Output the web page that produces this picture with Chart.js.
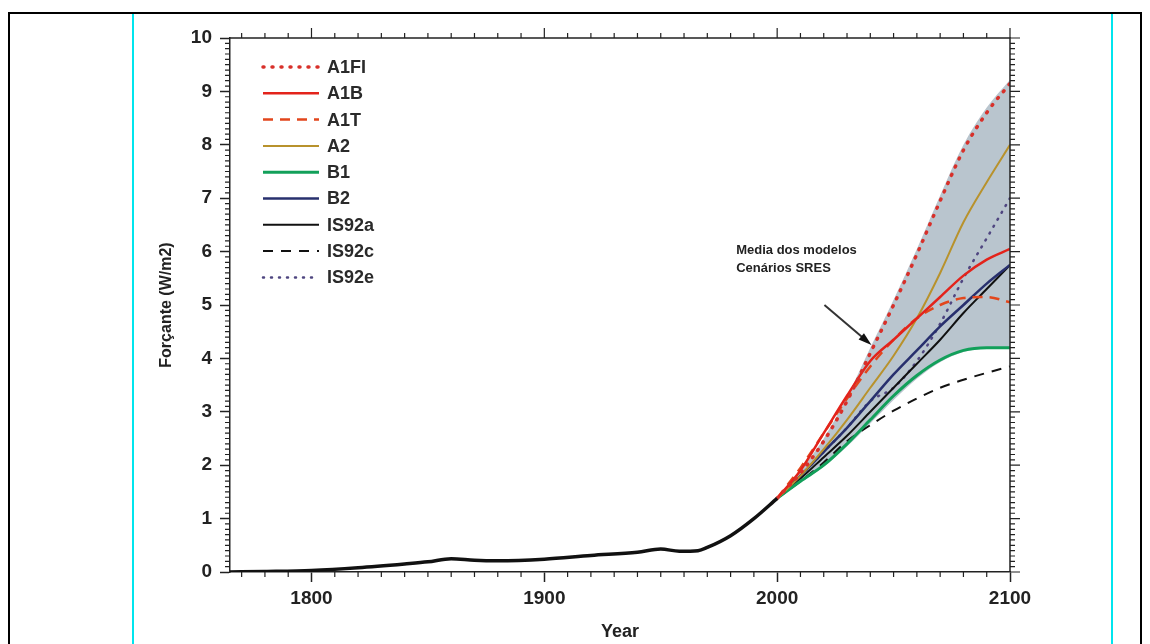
<!DOCTYPE html>
<html>
<head>
<meta charset="utf-8">
<script src="https://cdn.jsdelivr.net/npm/chart.js@4.4.0/dist/chart.umd.min.js"></script>
<style>
    body { margin: 0; background: #fff; }
    #frame { position: absolute; left: 8px; top: 12px; width: 1130px; height: 640px; border: 2px solid #000; border-bottom: none; }
    .cyan { position: absolute; top: 14px; width: 2px; height: 630px; background: #00e5ee; }
    #chart { position: absolute; left: 0; top: 0; }
</style>
</head>
<body>
<div id="frame"></div>
<div class="cyan" style="left:132px"></div>
<div class="cyan" style="left:1111px"></div>
<canvas id="chart" width="1150" height="644"></canvas>
<script>
// historical forcing
const histYears = [1765, 1780, 1800, 1820, 1840, 1850, 1860, 1870, 1880, 1900, 1920, 1940, 1950, 1958, 1966, 1970, 1980, 1990, 2000];
const histForcing = [0.0, 0.01, 0.03, 0.08, 0.15, 0.19, 0.25, 0.22, 0.21, 0.24, 0.31, 0.37, 0.43, 0.39, 0.40, 0.46, 0.68, 1.0, 1.38];

// scenario projections 2000-2100
const scenYears = [2000, 2010, 2020, 2030, 2040, 2050, 2060, 2070, 2080, 2090, 2100];
const a1fi  = [1.38, 1.85, 2.45, 3.2, 4.1, 5.0, 5.95, 6.95, 7.9, 8.6, 9.15];
const a1b   = [1.38, 1.9, 2.6, 3.3, 3.95, 4.35, 4.75, 5.15, 5.55, 5.85, 6.05];
const a1t   = [1.38, 1.95, 2.6, 3.25, 3.85, 4.35, 4.75, 5.0, 5.13, 5.15, 5.05];
const a2    = [1.38, 1.8, 2.3, 2.85, 3.45, 4.05, 4.75, 5.6, 6.55, 7.3, 8.0];
const b1    = [1.38, 1.7, 2.0, 2.4, 2.85, 3.3, 3.68, 3.97, 4.15, 4.2, 4.2];
const b2    = [1.38, 1.8, 2.25, 2.7, 3.2, 3.7, 4.15, 4.6, 5.0, 5.4, 5.75];
const is92a = [1.38, 1.75, 2.15, 2.55, 3.0, 3.45, 3.9, 4.35, 4.85, 5.3, 5.75];
const is92c = [1.38, 1.7, 2.05, 2.45, 2.75, 3.02, 3.25, 3.45, 3.6, 3.73, 3.85];
const is92e = [1.38, 1.8, 2.25, 2.7, 3.2, 3.45, 3.95, 4.65, 5.5, 6.25, 7.0];

// shaded model range
const bandLow  = [1.38, 1.67, 1.97, 2.35, 2.78, 3.22, 3.62, 3.93, 4.12, 4.18, 4.18];
const bandHigh = [1.38, 1.9, 2.5, 3.28, 4.2, 5.1, 6.05, 7.05, 8.0, 8.7, 9.22];

const xTickYears = [1800, 1900, 2000, 2100];
const yTickValues = [0, 1, 2, 3, 4, 5, 6, 7, 8, 9, 10];

const noteLines = ['Media dos modelos', 'Cenários SRES'];
const notePos = [1982.4, 6.03];
const arrowFrom = [2020.3, 5.0];
const arrowTo = [2040.5, 4.25];

const FONT = '"Liberation Sans", Arial, sans-serif';

function pts(xs, ys) {
    return xs.map((x, i) => ({ x: x, y: ys[i] }));
}

function scen(label, values, color, width, dash) {
    return {
        label: label,
        data: pts(scenYears, values),
        borderColor: color,
        borderWidth: width,
        borderDash: dash || [],
        borderCapStyle: dash && dash[0] <= 1 ? 'round' : 'butt',
        inLegend: true,
        fill: false
    };
}

// minor ticks, right/top axes
const frameTicks = {
    id: 'frameTicks',
    afterDraw(chart) {
        const { ctx, chartArea: { left, right, top, bottom }, scales: { x, y } } = chart;
        ctx.save();
        ctx.strokeStyle = '#222';
        ctx.lineWidth = 1.5;
        ctx.beginPath();
        ctx.moveTo(left, top);
        ctx.lineTo(right, top);
        ctx.lineTo(right, bottom);
        ctx.stroke();

        ctx.lineWidth = 1.2;
        ctx.beginPath();
        for (let yr = 1770; yr <= 2100; yr += 10) {
            const px = x.getPixelForValue(yr);
            const major = xTickYears.includes(yr);
            ctx.moveTo(px, top);
            ctx.lineTo(px, top - (major ? 10 : 5));
            if (!major) {
                ctx.moveTo(px, bottom);
                ctx.lineTo(px, bottom + 5);
            }
        }
        for (let k = 0; k <= 100; k++) {
            const v = k / 10;
            const py = y.getPixelForValue(v);
            const major = k % 10 === 0;
            ctx.moveTo(right, py);
            ctx.lineTo(right + (major ? 10 : 5), py);
            if (!major) {
                ctx.moveTo(left, py);
                ctx.lineTo(left - 5, py);
            }
        }
        ctx.stroke();
        ctx.restore();
    }
};

// legend inside the plot, upper left
const insideLegend = {
    id: 'insideLegend',
    afterDatasetsDraw(chart) {
        const { ctx, chartArea } = chart;
        const x0 = chartArea.left + 33;
        ctx.save();
        ctx.font = 'bold 18px ' + FONT;
        ctx.textBaseline = 'middle';
        ctx.fillStyle = '#2a2a2a';
        let row = 0;
        chart.data.datasets.forEach(ds => {
            if (!ds.inLegend) return;
            const yy = chartArea.top + 29 + row * 26.3;
            ctx.beginPath();
            ctx.strokeStyle = ds.borderColor;
            ctx.lineWidth = ds.borderWidth;
            ctx.setLineDash(ds.borderDash);
            ctx.lineCap = ds.borderCapStyle;
            ctx.moveTo(x0, yy);
            ctx.lineTo(x0 + 56, yy);
            ctx.stroke();
            ctx.setLineDash([]);
            ctx.fillText(ds.label, x0 + 64, yy + 1);
            row++;
        });
        ctx.restore();
    }
};

// text note and arrow
const modelNote = {
    id: 'modelNote',
    afterDatasetsDraw(chart) {
        const { ctx, scales: { x, y } } = chart;
        ctx.save();
        ctx.font = 'bold 13px ' + FONT;
        ctx.fillStyle = '#222';
        ctx.textBaseline = 'middle';
        const tx = x.getPixelForValue(notePos[0]);
        const ty = y.getPixelForValue(notePos[1]);
        noteLines.forEach((t, i) => ctx.fillText(t, tx, ty + i * 18));

        const x1 = x.getPixelForValue(arrowFrom[0]), y1 = y.getPixelForValue(arrowFrom[1]);
        const x2 = x.getPixelForValue(arrowTo[0]), y2 = y.getPixelForValue(arrowTo[1]);
        const ang = Math.atan2(y2 - y1, x2 - x1);
        ctx.strokeStyle = '#333';
        ctx.lineWidth = 2;
        ctx.beginPath();
        ctx.moveTo(x1, y1);
        ctx.lineTo(x2 - 10 * Math.cos(ang), y2 - 10 * Math.sin(ang));
        ctx.stroke();
        ctx.fillStyle = '#111';
        ctx.beginPath();
        ctx.moveTo(x2, y2);
        ctx.lineTo(x2 - 14 * Math.cos(ang - 0.3), y2 - 14 * Math.sin(ang - 0.3));
        ctx.lineTo(x2 - 14 * Math.cos(ang + 0.3), y2 - 14 * Math.sin(ang + 0.3));
        ctx.closePath();
        ctx.fill();
        ctx.restore();
    }
};

Chart.defaults.font.family = FONT;
Chart.defaults.color = '#222';

new Chart(document.getElementById('chart'), {
    type: 'line',
    data: {
        datasets: [
            {
                label: 'hist',
                data: pts(histYears, histForcing),
                borderColor: '#111',
                borderWidth: 3.5,
                fill: false
            },
            scen('A1FI', a1fi, '#d8302a', 3.5, [1, 8]),
            scen('A1B', a1b, '#e3231b', 2.5),
            scen('A1T', a1t, '#e2461c', 2.5, [10, 7]),
            scen('A2', a2, '#b8922c', 2),
            scen('B1', b1, '#12a05a', 3),
            scen('B2', b2, '#28306e', 2.5),
            scen('IS92a', is92a, '#111', 2),
            scen('IS92c', is92c, '#111', 2, [10, 8]),
            scen('IS92e', is92e, '#4f4680', 2.5, [1, 7]),
            {
                label: 'low',
                data: pts(scenYears, bandLow),
                borderWidth: 0,
                borderColor: 'rgba(0,0,0,0)',
                fill: false
            },
            {
                label: 'high',
                data: pts(scenYears, bandHigh),
                borderWidth: 0,
                borderColor: 'rgba(0,0,0,0)',
                backgroundColor: '#b9c5ce',
                fill: '-1'
            }
        ]
    },
    options: {
        responsive: false,
        animation: false,
        devicePixelRatio: 1,
        layout: { padding: { left: 150, right: 140, top: 38, bottom: 0 } },
        elements: {
            point: { radius: 0 },
            line: { cubicInterpolationMode: 'monotone' }
        },
        plugins: {
            legend: { display: false },
            tooltip: { enabled: false }
        },
        scales: {
            x: {
                type: 'linear',
                min: 1765,
                max: 2100,
                afterBuildTicks: s => { s.ticks = xTickYears.map(v => ({ value: v })); },
                afterFit: s => { s.height = 72; },
                ticks: {
                    font: { size: 19, weight: 'bold' },
                    padding: 5,
                    maxRotation: 0,
                    callback: v => String(v)
                },
                grid: { drawOnChartArea: false, tickLength: 10, tickWidth: 1.5, tickColor: '#222' },
                border: { color: '#222', width: 1.5 },
                title: {
                    display: true,
                    text: 'Year',
                    font: { size: 18, weight: 'bold' },
                    padding: { top: 0, bottom: 1 }
                }
            },
            y: {
                min: 0,
                max: 10,
                afterBuildTicks: s => { s.ticks = yTickValues.map(v => ({ value: v })); },
                afterFit: s => { s.width = 80; },
                ticks: {
                    font: { size: 19, weight: 'bold' },
                    padding: 8
                },
                grid: { drawOnChartArea: false, tickLength: 10, tickWidth: 1.5, tickColor: '#222' },
                border: { color: '#222', width: 1.5 },
                title: {
                    display: true,
                    text: 'Forçante (W/m2)',
                    font: { size: 16, weight: 'bold' },
                    padding: { top: 7, bottom: 0 }
                }
            }
        }
    },
    plugins: [frameTicks, insideLegend, modelNote]
});
</script>
</body>
</html>
